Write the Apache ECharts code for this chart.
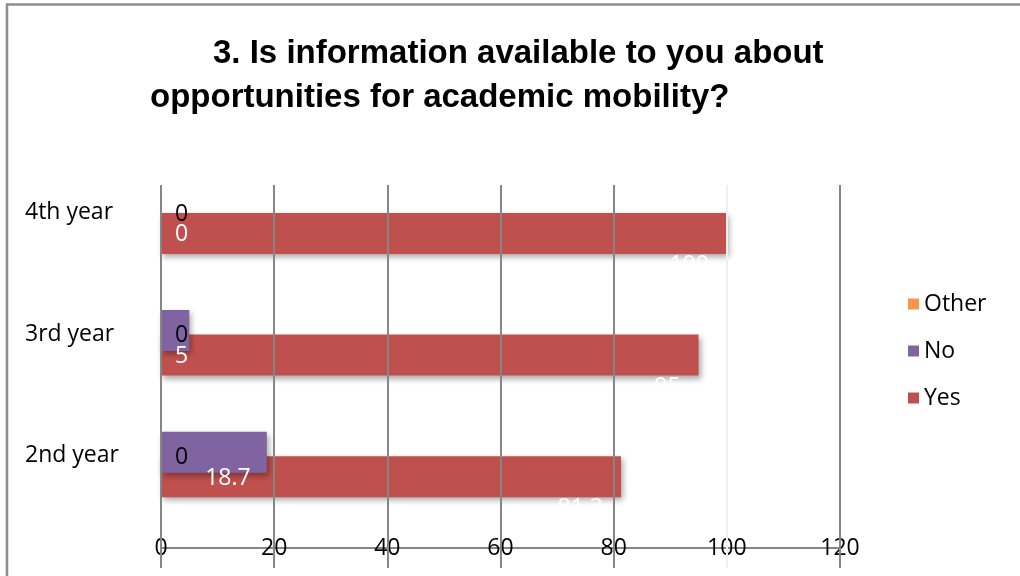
<!DOCTYPE html>
<html><head><meta charset="utf-8">
<script src="https://cdn.jsdelivr.net/npm/echarts/dist/echarts.min.js"></script>
<style>html,body{margin:0;padding:0;background:#fff}#c{width:1020px;height:576px}</style>
</head><body><div id="c"></div>
<script>
const titleLines = ['3. Is information available to you about', 'opportunities for academic mobility?'];
const categories = ['2nd year', '3rd year', '4th year'];
const yesValues = [81.3, 95, 100];
const noValues = [18.7, 5, 0];
const otherValues = [0, 0, 0];
const xTicks = [0, 20, 40, 60, 80, 100, 120];
const legendOrder = ['Other', 'No', 'Yes'];

const FONT = 'Open Sans';
const GRID_GRAY = '#868686';
const shadow = { shadowColor: 'rgba(0,0,0,0.35)', shadowBlur: 6, shadowOffsetX: 2, shadowOffsetY: 3 };
const xMin = xTicks[0], xMax = xTicks[xTicks.length - 1], xInt = xTicks[1] - xTicks[0];

const noData = noValues.map(v => ({
  value: v,
  label: v < 10 ? { position: 'insideLeft', distance: 14, offset: [0, 26] }
                : { position: 'inside', offset: [14, 26] }
}));

const chart = echarts.init(document.getElementById('c'), null, { renderer: 'canvas' });
chart.setOption({
  animation: false,
  backgroundColor: '#fff',
  textStyle: { fontFamily: FONT },
  title: [
    { text: titleLines[0], left: 213, top: 37, padding: 0,
      textStyle: { fontFamily: 'Liberation Sans', fontWeight: 'bold', fontSize: 33, color: '#000' } },
    { text: titleLines[1], left: 150, top: 81, padding: 0,
      textStyle: { fontFamily: 'Liberation Sans', fontWeight: 'bold', fontSize: 33, color: '#000' } }
  ],
  legend: {
    data: legendOrder, orient: 'vertical', left: 903, top: 287,
    icon: 'rect', itemWidth: 11, itemHeight: 11, itemGap: 23,
    textStyle: { fontFamily: FONT, fontSize: 23, lineHeight: 24, color: '#000' }
  },
  graphic: [
    { type: 'polyline', silent: true, z: 100,
      shape: { points: [[7, 580], [7, 4.5], [1025, 4.5]] },
      style: { stroke: '#8f8f8f', lineWidth: 2.5, fill: null } }
  ],
  grid: [
    { left: 161, right: 180, top: 148, bottom: 63, outerBoundsMode: 'none', containLabel: false },
    { left: 161, right: 180, top: 185, bottom: 8, outerBoundsMode: 'none', containLabel: false }
  ],
  xAxis: [
    { type: 'value', gridIndex: 0, min: xMin, max: xMax, interval: xInt, offset: 35,
      axisLine: { show: true, lineStyle: { color: GRID_GRAY, width: 2 } },
      axisTick: { show: false }, splitLine: { show: false },
      axisLabel: { margin: -11, fontSize: 23, color: '#000', fontFamily: FONT } },
    { type: 'value', gridIndex: 1, min: xMin, max: xMax, interval: xInt, zlevel: 1,
      axisLine: { show: false }, axisTick: { show: false }, axisLabel: { show: false },
      splitLine: { show: true, lineStyle: { width: 2,
        color: [GRID_GRAY, GRID_GRAY, GRID_GRAY, GRID_GRAY, GRID_GRAY, '#efefef', GRID_GRAY] } } }
  ],
  yAxis: [
    { type: 'category', gridIndex: 0, data: categories,
      axisLine: { show: false }, axisTick: { show: false }, splitLine: { show: false },
      axisLabel: { align: 'left', margin: 136, color: '#000',
        formatter: '{c|{value}}',
        rich: { c: { fontSize: 23, fontFamily: FONT, color: '#000', padding: [7, 0, 0, 0] } } } },
    { type: 'value', gridIndex: 1, show: false, min: 0, max: 1 }
  ],
  series: [
    { name: 'Other', type: 'bar', xAxisIndex: 0, yAxisIndex: 0, data: otherValues,
      barWidth: 41, barGap: '-40%', z: 4,
      itemStyle: Object.assign({ color: '#F79646' }, shadow),
      label: { show: true, position: 'right', distance: 14, offset: [0, 30],
        color: '#000', fontSize: 23, fontFamily: FONT } },
    { name: 'No', type: 'bar', xAxisIndex: 0, yAxisIndex: 0, data: noData,
      barWidth: 41, barGap: '-40%', z: 3,
      itemStyle: Object.assign({ color: '#8064A2' }, shadow),
      label: { show: true, color: '#fff', fontSize: 23, fontFamily: FONT } },
    { name: 'Yes', type: 'bar', xAxisIndex: 0, yAxisIndex: 0, data: yesValues,
      barWidth: 41, barGap: '-40%', z: 2,
      itemStyle: Object.assign({ color: '#C0504D' }, shadow),
      label: { show: true, position: 'insideRight', distance: 18, offset: [0, 32],
        color: '#fff', fontSize: 23, fontFamily: FONT } }
  ]
});
</script>
</body></html>
